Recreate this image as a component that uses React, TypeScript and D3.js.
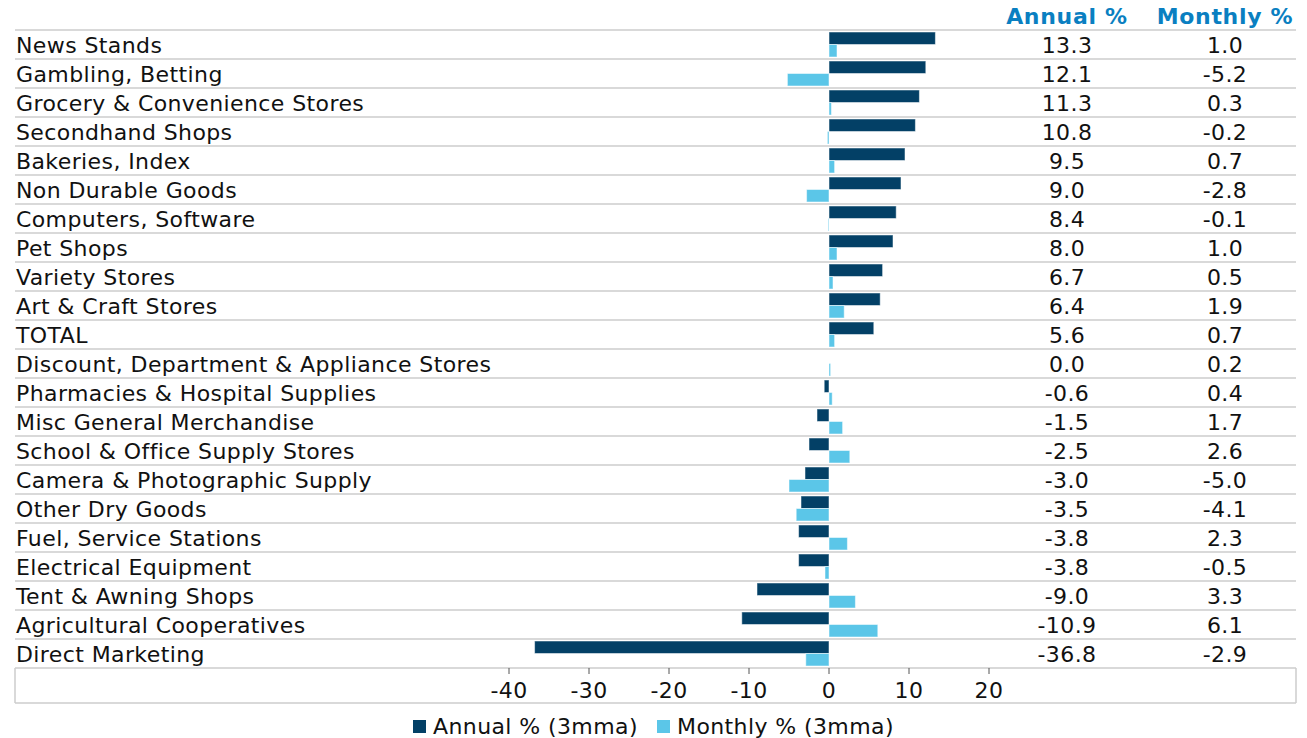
import React from "react";
import * as d3 from "d3";

const categories: string[] = [
  "News Stands",
  "Gambling, Betting",
  "Grocery & Convenience Stores",
  "Secondhand Shops",
  "Bakeries, Index",
  "Non Durable Goods",
  "Computers, Software",
  "Pet Shops",
  "Variety Stores",
  "Art & Craft Stores",
  "TOTAL",
  "Discount, Department & Appliance Stores",
  "Pharmacies & Hospital Supplies",
  "Misc General Merchandise",
  "School & Office Supply Stores",
  "Camera & Photographic Supply",
  "Other Dry Goods",
  "Fuel, Service Stations",
  "Electrical Equipment",
  "Tent & Awning Shops",
  "Agricultural Cooperatives",
  "Direct Marketing",
];

const annual: number[] = [
  13.3, 12.1, 11.3, 10.8, 9.5, 9.0, 8.4, 8.0, 6.7, 6.4, 5.6, 0.0, -0.6, -1.5,
  -2.5, -3.0, -3.5, -3.8, -3.8, -9.0, -10.9, -36.8,
];

const monthly: number[] = [
  1.0, -5.2, 0.3, -0.2, 0.7, -2.8, -0.1, 1.0, 0.5, 1.9, 0.7, 0.2, 0.4, 1.7, 2.6,
  -5.0, -4.1, 2.3, -0.5, 3.3, 6.1, -2.9,
];

const xTicks: number[] = [-40, -30, -20, -10, 0, 10, 20];

const seriesNames: string[] = ["Annual % (3mma)", "Monthly % (3mma)"];
const columnHeaders: string[] = ["Annual %", "Monthly %"];

const W = 1307;
const H = 738;
const DARK = "#034066";
const LIGHT = "#5bc6e8";
const HEAD = "#0a7fc1";
const GRID = "#cccccc";
const FONT = "'DejaVu Sans', Verdana, sans-serif";
const FS = 22;
const LS = 0.4;

// values are shown with one decimal and a plain hyphen for negatives
const fmt = (v: number) => v.toFixed(1);

export default function App() {
  const left = 15;
  const right = 1296;
  const top = 30;
  const rowsBottom = 668;
  const boxBottom = 703;

  const x = d3.scaleLinear().domain([-40, 20]).range([509, 989]);
  const y = d3.scaleBand<string>().domain(categories).range([top, rowsBottom]);
  const bw = y.bandwidth();
  const barH = (bw - 4) / 2;

  const colAnnual = 1067;
  const colMonthly = 1225;

  return (
    <svg
      width={W}
      height={H}
      style={{ position: "absolute", left: 0, top: 0, background: "#fff" }}
      fontFamily={FONT}
      fontSize={FS}
      letterSpacing={LS}
    >
      {/* column headers */}
      <text x={colAnnual} y={24} textAnchor="middle" fontWeight="bold" fill={HEAD} letterSpacing={0.7}>
        {columnHeaders[0]}
      </text>
      <text x={colMonthly} y={24} textAnchor="middle" fontWeight="bold" fill={HEAD} letterSpacing={0.7}>
        {columnHeaders[1]}
      </text>

      {/* row separators and the axis box */}
      {categories.map((c) => (
        <line key={"g" + c} x1={left} x2={right} y1={y(c)!} y2={y(c)!} stroke={GRID} strokeWidth={1.5} />
      ))}
      <line x1={left} x2={right} y1={rowsBottom} y2={rowsBottom} stroke={GRID} strokeWidth={1.5} />
      <line x1={left} x2={right} y1={boxBottom} y2={boxBottom} stroke={GRID} strokeWidth={1.5} />
      <line x1={left} x2={left} y1={rowsBottom} y2={boxBottom} stroke={GRID} strokeWidth={1.5} />
      <line x1={right} x2={right} y1={rowsBottom} y2={boxBottom} stroke={GRID} strokeWidth={1.5} />

      {/* rows: label, paired bars, value columns */}
      {categories.map((c, i) => {
        const y0 = y(c)!;
        const a = annual[i];
        const m = monthly[i];
        const base = y0 + bw / 2 + 8.5;
        return (
          <g key={c}>
            <text x={16} y={base} fill="#111">
              {c}
            </text>
            <rect
              x={Math.min(x(0), x(a))}
              y={y0 + 2}
              width={Math.abs(x(a) - x(0))}
              height={barH}
              fill={DARK}
              stroke="rgba(255,255,255,0.5)"
              strokeWidth={1}
            />
            <rect
              x={Math.min(x(0), x(m))}
              y={y0 + 2 + barH}
              width={Math.abs(x(m) - x(0))}
              height={barH}
              fill={LIGHT}
              stroke="rgba(255,255,255,0.5)"
              strokeWidth={1}
            />
            <text x={colAnnual} y={base} textAnchor="middle" fill="#111">
              {fmt(a)}
            </text>
            <text x={colMonthly} y={base} textAnchor="middle" fill="#111">
              {fmt(m)}
            </text>
          </g>
        );
      })}

      {/* x axis */}
      {xTicks.map((t) => (
        <g key={"t" + t}>
          <line x1={x(t)} x2={x(t)} y1={rowsBottom} y2={rowsBottom + 6} stroke="#555" strokeWidth={1} />
          <text x={x(t)} y={698} textAnchor="middle" fill="#111">
            {String(t)}
          </text>
        </g>
      ))}

      {/* legend */}
      <rect x={413} y={720} width={13} height={13} fill={DARK} />
      <text x={433} y={734} fill="#111">
        {seriesNames[0]}
      </text>
      <rect x={657} y={720} width={13} height={13} fill={LIGHT} />
      <text x={677} y={734} fill="#111">
        {seriesNames[1]}
      </text>
    </svg>
  );
}
